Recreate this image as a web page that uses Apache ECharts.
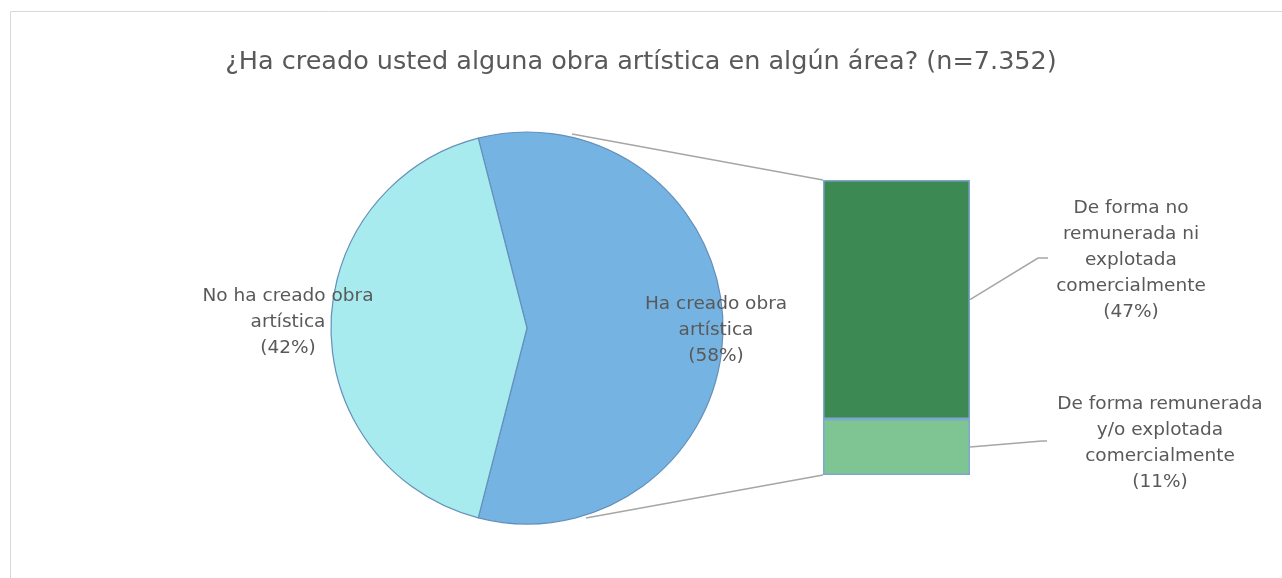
<!DOCTYPE html>
<html>
<head>
<meta charset="utf-8">
<script src="https://cdn.jsdelivr.net/npm/echarts@6/dist/echarts.min.js"></script>
<style>
  html, body { margin: 0; padding: 0; background: #fff; }
  #main { width: 1282px; height: 578px; }
</style>
</head>
<body>
<div id="main"></div>
<script>
// datos
var pieNames = ['Ha creado obra\nartística', 'No ha creado obra\nartística'];
var pieValues = [58, 42];
var barNames = ['De forma remunerada\ny/o explotada\ncomercialmente', 'De forma no\nremunerada ni\nexplotada\ncomercialmente'];
var barValues = [11, 47];
var titleText = '¿Ha creado usted alguna obra artística en algún área? (n=7.352)';

var FONT = 'DejaVu Sans';
var TXT = '#595959';
var pieCenter = [527, 328];
var pieR = 196;

var myChart = echarts.init(document.getElementById('main'));

// angulo de inicio: la porcion "Ha creado" centrada a la derecha
var startAngle = pieValues[0] / (pieValues[0] + pieValues[1]) * 180;

var option = {
  animation: false,
  title: {
    text: titleText,
    left: 'center',
    top: 44,
    textStyle: { fontFamily: FONT, fontSize: 25.5, fontWeight: 'normal', color: TXT }
  },
  grid: { left: 823, top: 180, width: 147, height: 295 },
  xAxis: { type: 'category', data: [''], show: false },
  yAxis: { type: 'value', min: 0, max: barValues[0] + barValues[1], show: false },
  series: [
    {
      type: 'pie',
      center: pieCenter,
      radius: pieR,
      startAngle: startAngle,
      clockwise: true,
      label: { show: false },
      labelLine: { show: false },
      itemStyle: { borderColor: '#6590bb', borderWidth: 1.2 },
      data: [
        { name: pieNames[0], value: pieValues[0], itemStyle: { color: '#75b4e2' } },
        { name: pieNames[1], value: pieValues[1], itemStyle: { color: '#a8ebef' } }
      ]
    },
    {
      type: 'bar', stack: 'b', barWidth: '100%',
      itemStyle: { color: '#7fc493', borderColor: '#7ea7cf', borderWidth: 1.5 },
      data: [barValues[0]]
    },
    {
      type: 'bar', stack: 'b', barWidth: '100%',
      itemStyle: { color: '#3c8953', borderColor: '#7ea7cf', borderWidth: 1.5 },
      data: [barValues[1]]
    }
  ]
};
myChart.setOption(option);

// lineas y etiquetas
function addGraphics() {
  var tot = barValues[0] + barValues[1];
  var pTop = myChart.convertToPixel({ gridIndex: 0 }, [0, tot]);
  var pMid = myChart.convertToPixel({ gridIndex: 0 }, [0, barValues[0]]);
  var pBot = myChart.convertToPixel({ gridIndex: 0 }, [0, 0]);
  var bl = 823, br = 970;
  var ts = { fontFamily: FONT, fontSize: 18.5, fill: TXT, align: 'center', verticalAlign: 'middle', lineHeight: 26 };
  var lineStyle = { stroke: '#a6a6a6', lineWidth: 1.5, fill: null };
  var els = [
    // borde del grafico
    { type: 'rect', shape: { x: 10.5, y: 11.5, width: 1300, height: 600 }, style: { fill: null, stroke: '#d9d9d9', lineWidth: 1 }, silent: true },
    { type: 'polyline', shape: { points: [[572, 134], [bl, pTop[1]]] }, style: lineStyle },
    { type: 'polyline', shape: { points: [[586, 518], [bl, pBot[1]]] }, style: lineStyle },
    { type: 'polyline', shape: { points: [[br, (pTop[1] + pMid[1]) / 2], [1038, 258], [1048, 258]] }, style: lineStyle },
    { type: 'polyline', shape: { points: [[br, (pMid[1] + pBot[1]) / 2], [1042, 441], [1047, 441]] }, style: lineStyle },
    { type: 'text', z: 100, x: 288, y: 322, style: Object.assign({}, ts, { text: pieNames[1] + '\n(' + pieValues[1] + '%)' }) },
    { type: 'text', z: 100, x: 716, y: 330, style: Object.assign({}, ts, { text: pieNames[0] + '\n(' + pieValues[0] + '%)' }) },
    { type: 'text', z: 100, x: 1131, y: 260, style: Object.assign({}, ts, { text: barNames[1] + '\n(' + barValues[1] + '%)' }) },
    { type: 'text', z: 100, x: 1160, y: 443, style: Object.assign({}, ts, { text: barNames[0] + '\n(' + barValues[0] + '%)' }) }
  ];
  myChart.setOption({ graphic: els });
}
addGraphics();
</script>
</body>
</html>
